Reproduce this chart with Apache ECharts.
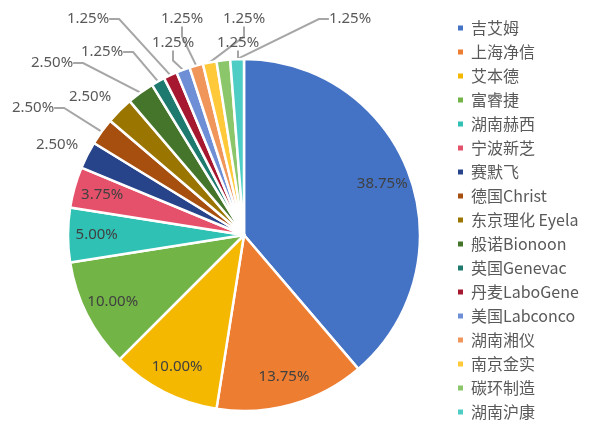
<!DOCTYPE html>
<html>
<head>
<meta charset="utf-8">
<script src="https://cdn.jsdelivr.net/npm/echarts@6/dist/echarts.min.js"></script>
<style>
html,body{margin:0;padding:0;background:#fff;}
#chart{width:594px;height:426px;}
</style>
</head>
<body>
<div id="chart"></div>
<script>
// Data
const brands = ['吉艾姆','上海净信','艾本德','富睿捷','湖南赫西','宁波新芝','赛默飞','德国Christ','东京理化 Eyela','般诺Bionoon','英国Genevac','丹麦LaboGene','美国Labconco','湖南湘仪','南京金实','碳环制造','湖南沪康'];
const shares = [38.75, 13.75, 10.00, 10.00, 5.00, 3.75, 2.50, 2.50, 2.50, 2.50, 1.25, 1.25, 1.25, 1.25, 1.25, 1.25, 1.25];
const colors = ['#4472C4','#ED7D31','#F5B800','#73B446','#2FC1B4','#E5516A','#27448A','#A64F0E','#9A7600','#45752A','#1E7A6E','#A5182F','#6E8ED6','#F0965A','#FFC93A','#8CC66A','#4ECDC4'];
const insideLabelCount = 6;           // first 6 slices labelled inside
// outside label anchor positions (label centres, pixels) for the small slices
const outsideLabelPos = {
  6: [57,145], 7: [33,108], 8: [90,97], 9: [52,63],
  10: [102,52], 11: [88,19], 12: [173,43], 13: [182,19],
  14: [244,19], 15: [238,43], 16: [350,19]
};
const noLineIdx = [6, 8];

const chart = echarts.init(document.getElementById('chart'), null, {renderer:'canvas'});
const fmt = p => p.percent.toFixed(2) + '%';
const center = [244, 235];
const R = 176;

const mainData = brands.map((n, i) => ({
  name: n, value: shares[i],
  itemStyle: {color: colors[i]},
  label: {show: i >= insideLabelCount},
  labelLine: {show: i >= insideLabelCount && noLineIdx.indexOf(i) < 0}
}));
const labelData = brands.map((n, i) => ({
  name: n, value: shares[i],
  label: {show: i < insideLabelCount}
}));

chart.setOption({
  animation: false,
  legend: {
    orient: 'vertical',
    left: 451, top: 14,
    itemWidth: 7, itemHeight: 7, itemGap: 6,
    icon: 'rect',
    data: brands,
    textStyle: {fontSize: 16, lineHeight: 18, color: '#595959', fontFamily: 'Noto Sans CJK SC', padding: [0,0,0,2]}
  },
  series: [
    {
      type: 'pie',
      center: center, radius: R,
      startAngle: 90, clockwise: true,
      avoidLabelOverlap: false,
      itemStyle: {borderColor: '#fff', borderWidth: 2.5},
      label: {
        position: 'outside', formatter: fmt,
        fontSize: 15, color: '#595959', fontFamily: 'Noto Sans'
      },
      labelLine: {show: true, lineStyle: {color: '#A6A6A6', width: 2}, length: 10, length2: 10},
      labelLayout: function (params) {
        const p = outsideLabelPos[params.dataIndex];
        if (!p) return {};
        return {x: p[0], y: p[1], align: 'center', verticalAlign: 'middle'};
      },
      emphasis: {disabled: true},
      data: mainData
    },
    {
      type: 'pie',
      center: center, radius: [R * 0.64, R],
      startAngle: 90, clockwise: true,
      silent: true,
      itemStyle: {color: 'rgba(0,0,0,0)', borderWidth: 0},
      label: {position: 'inside', formatter: fmt, fontSize: 15, color: '#404040', fontFamily: 'Noto Sans'},
      labelLine: {show: false},
      emphasis: {disabled: true},
      data: labelData
    }
  ]
});
</script>
</body>
</html>
